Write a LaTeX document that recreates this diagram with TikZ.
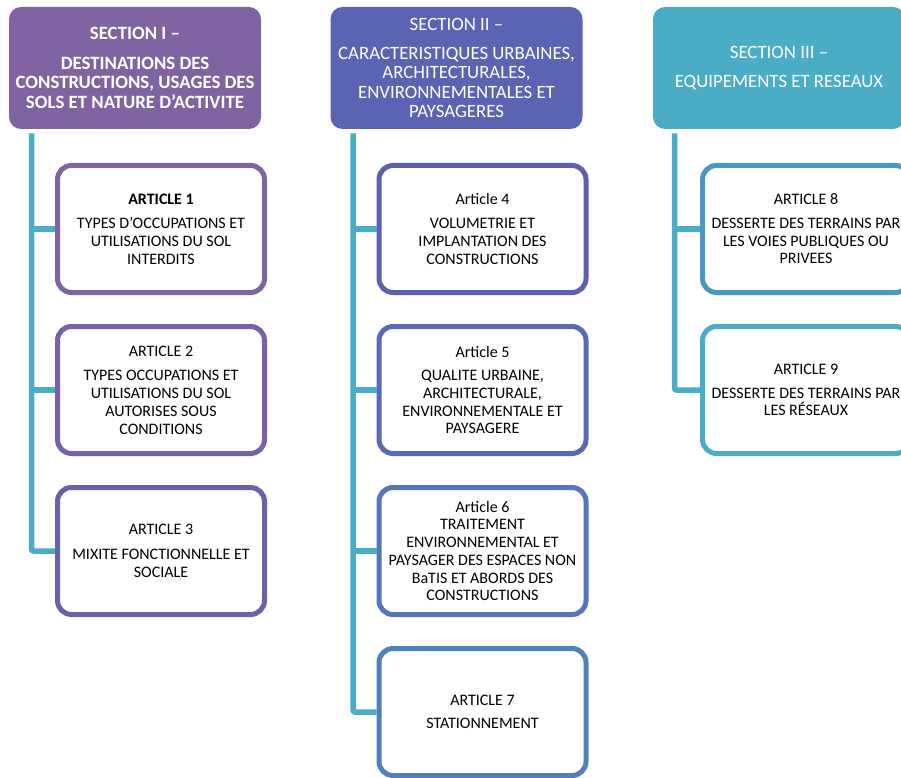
\documentclass[tikz,border=0pt]{standalone}
\usepackage{fontspec}
\setmainfont{Carlito}

\definecolor{secA}{HTML}{8064A2}
\definecolor{secB}{HTML}{5B64B2}
\definecolor{secC}{HTML}{4BACC6}
\definecolor{linkc}{HTML}{4BACC6}
\definecolor{artA}{HTML}{8064A2}
\definecolor{artB}{HTML}{7761A8}
\definecolor{artC}{HTML}{6C5FAD}
\definecolor{artD}{HTML}{5E5FB2}
\definecolor{artE}{HTML}{5A69B7}
\definecolor{artF}{HTML}{5576BA}
\definecolor{artG}{HTML}{4F81BD}
\definecolor{artH}{HTML}{4E95C2}
\definecolor{artI}{HTML}{4BACC6}

\tikzset{
every picture/.style={
line width=1pt
},
head/.style={fill=#1, rounded corners=12pt, minimum width=252pt, minimum height=122pt,
  text=white, align=center, inner sep=0pt, font=\fontsize{18.8}{19.5}\selectfont},
art/.style={draw=#1, fill=white, line width=5pt, rounded corners=14pt, minimum width=207pt,
  minimum height=127pt, align=center, inner sep=0pt, font=\fontsize{16}{17.7}\selectfont},
link/.style={draw=linkc, line width=5.5pt, rounded corners=2pt}
}

\begin{document}
\begin{tikzpicture}[x=1pt, y=-1pt]
\clip (0,0) rectangle (901,778);

% sections
\node[head=secA] (h1) at (135,68) {\bfseries SECTION I --\\[10pt]\bfseries DESTINATIONS DES\\\bfseries CONSTRUCTIONS, USAGES DES\\\bfseries SOLS ET NATURE D’ACTIVITE};
\node[head=secB] (h2) at (456.5,68) {SECTION II --\\[9pt]CARACTERISTIQUES URBAINES,\\ARCHITECTURALES,\\ENVIRONNEMENTALES ET\\PAYSAGERES};
\node[head=secC] (h3) at (779,68) {SECTION III --\\[9pt]EQUIPEMENTS ET RESEAUX};

% spines
\coordinate (sp1) at ([xshift=23pt, yshift=-4pt]h1.south west);
\coordinate (sp2) at ([xshift=23pt, yshift=-4pt]h2.south west);
\coordinate (sp3) at ([xshift=22pt, yshift=-4pt]h3.south west);

% articles
\node[art=artA] (a1) at (161,229) {\textbf{ARTICLE 1}\\[7pt]TYPES D’OCCUPATIONS ET\\UTILISATIONS DU SOL\\INTERDITS};
\node[art=artB] (a2) at (161,390) {ARTICLE 2\\[7pt]TYPES OCCUPATIONS ET\\UTILISATIONS DU SOL\\AUTORISES SOUS\\CONDITIONS};
\node[art=artC] (a3) at (161,551) {ARTICLE 3\\[7pt]MIXITE FONCTIONNELLE ET\\SOCIALE};
\node[art=artD] (a4) at (482.5,229) {Article 4\\[6pt]VOLUMETRIE ET\\IMPLANTATION DES\\CONSTRUCTIONS};
\node[art=artE] (a5) at (482.5,390) {Article 5\\[6pt]QUALITE URBAINE,\\ARCHITECTURALE,\\ENVIRONNEMENTALE ET\\PAYSAGERE};
\node[art=artF] (a6) at (482.5,551) {Article 6\\TRAITEMENT\\ENVIRONNEMENTAL ET\\PAYSAGER DES ESPACES NON\\BaTIS ET ABORDS DES\\CONSTRUCTIONS};
\node[art=artG] (a7) at (482.5,712) {ARTICLE 7\\[6pt]STATIONNEMENT};
\node[art=artH] (a8) at (806,229) {ARTICLE 8\\[6pt]DESSERTE DES TERRAINS PAR\\LES VOIES PUBLIQUES OU\\PRIVEES};
\node[art=artI] (a9) at (806,390) {ARTICLE 9\\[6pt]DESSERTE DES TERRAINS PAR\\LES RÉSEAUX};

\draw[link] (sp1) |- (a3.west);
\draw[link] (sp2) |- (a7.west);
\draw[link] (sp3) |- (a9.west);
\foreach \a/\s in {a1/sp1, a2/sp1, a4/sp2, a5/sp2, a6/sp2, a8/sp3}{
  \draw[link] (\a.west) -- (\a.west -| \s);
}
\end{tikzpicture}
\end{document}
